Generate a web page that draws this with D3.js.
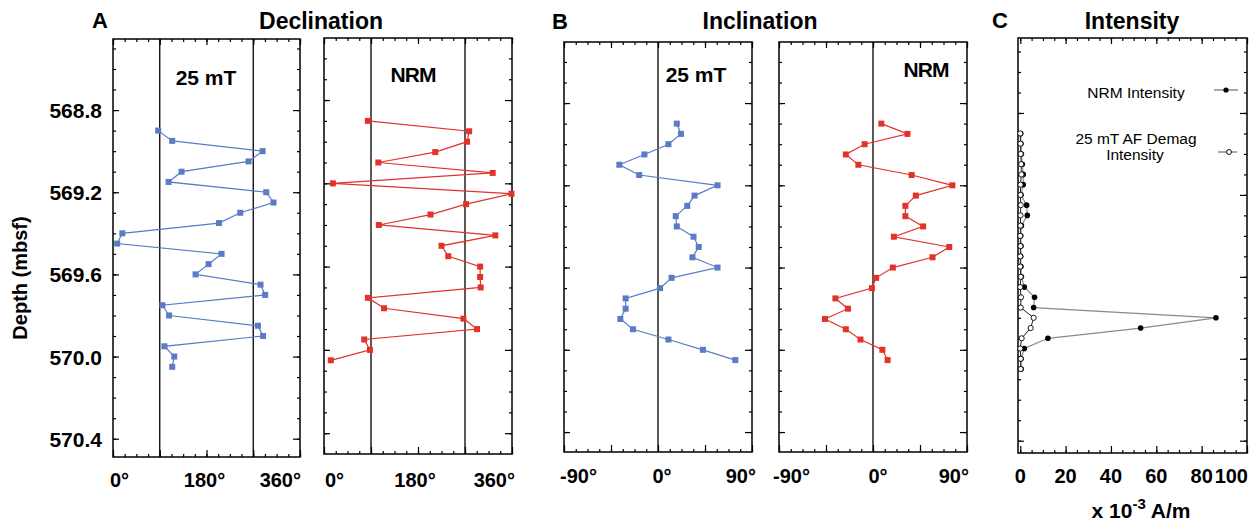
<!DOCTYPE html>
<html>
  <head>
    <style>
      body { margin: 0; background: white; }
      svg { font-family: "Liberation Sans", Arial, sans-serif; }
      .frame { fill: none; stroke: #000; stroke-width: 1.5px; }
      .tick line { stroke: #000; stroke-width: 1.2px; }
    </style>
  </head>
  <body>
    <script src="https://d3js.org/d3.v7.min.js"></script>
    <script>
    // sample depths (mbsf), shared by every panel
    var depth = [568.90, 568.95, 569.00, 569.05, 569.10, 569.15, 569.20, 569.25,
                 569.30, 569.35, 569.40, 569.45, 569.50, 569.55, 569.60, 569.65,
                 569.70, 569.75, 569.80, 569.85, 569.90, 569.95, 570.00, 570.05];

    // declination (deg)
    var dec25 = [87, 114, 288, 261, 132, 107, 295, 309, 245, 204, 18, 8,
                 209, 184, 159, 284, 293, 95, 108, 279, 289, 99, 118, 114];
    var decNrm = [84, 278, 274, 213, 104, 323, 17, 359, 272, 204, 105, 328,
                  225, 238, 299, 299, 300, 84, 115, 267, 293, 77, 88, 13];

    // inclination (deg)
    var inc25 = [18, 22, 10, -13, -37, -18, 57, 35, 28, 17, 18, 34,
                 39, 33, 57, 13, 2, -31, -31, -36, -24, 10, 43, 74];
    var incNrm = [8, 33, -8, -26, -14, 37, 76, 41, 31, 31, 48, 20,
                  73, 57, 19, 3, -1, -36, -24, -46, -26, -12, 9, 14];

    // intensity (x 10^-3 A/m)
    var intNrm = [0.2, 0.3, 0.5, 0.9, 1.3, 1.3, 0.3, 2.8, 3.1, 0.5, 0.2, 0.3,
                  0.2, 0.3, 0.5, 1.8, 6.3, 5.9, 86.3, 53.1, 12.2, 1.8, 0.3, 0.4];
    var int25 = [0, 0.1, 0.2, 0.4, 0.5, 0.1, 0.1, 0.2, 0.1, 0.1, 0, 0.1,
                 0, 0, 0.2, 0, 0.3, 0.2, 5.9, 4.6, 0.6, 0, 0.2, 0.2];

    var depthMajor = [568.8, 569.2, 569.6, 570.0, 570.4];
    var depthLabels = ["568.8", "569.2", "569.6", "570.0", "570.4"];
    var decLabels = ["0°", "180°", "360°"];
    var incLabels = ["-90°", "0°", "90°"];
    var intTicks = [0, 20, 40, 60, 80, 100];

    var blue = "#5b7bc5", red = "#e2332b";

    var svg = d3.select("body").append("svg")
        .attr("width", 1260)
        .attr("height", 525);

    function panel(p) {
      var x = d3.scaleLinear().domain(p.xd).range([p.x0, p.x1]);
      var y = d3.scaleLinear().domain(p.yd).range([p.y0, p.y1]);
      var g = svg.append("g");

      var dMinor = d3.range(5684, 5706).map(function(v){ return v / 10; })
          .filter(function(v){ return v > p.yd[0] && v < p.yd[1]; });
      var xMinor = d3.range(p.xFrom, p.xd[1] + 0.001, p.xMinor);
      var xMajor = d3.range(p.xFrom, p.xd[1] + 0.001, p.xMajor);

      function ax(axis, tv, size, tr) {
        g.append("g")
          .attr("transform", tr)
          .call(axis.tickValues(tv).tickSize(-size).tickSizeOuter(0).tickFormat(""))
          .call(function(s){ s.select(".domain").remove(); });
      }
      ax(d3.axisLeft(y), dMinor, 3, "translate(" + p.x0 + ",0)");
      ax(d3.axisLeft(y), depthMajor, 6, "translate(" + p.x0 + ",0)");
      ax(d3.axisRight(y), dMinor, 3, "translate(" + p.x1 + ",0)");
      ax(d3.axisRight(y), depthMajor, 7, "translate(" + p.x1 + ",0)");
      ax(d3.axisTop(x), xMinor, 3, "translate(0," + p.y0 + ")");
      ax(d3.axisTop(x), xMajor, 6, "translate(0," + p.y0 + ")");
      ax(d3.axisBottom(x), xMinor, 3, "translate(0," + p.y1 + ")");
      ax(d3.axisBottom(x), xMajor, 7, "translate(0," + p.y1 + ")");

      g.append("rect").attr("class", "frame")
        .attr("x", p.x0).attr("y", p.y0)
        .attr("width", p.x1 - p.x0).attr("height", p.y1 - p.y0);

      (p.refs || []).forEach(function(v){
        g.append("line")
          .attr("x1", x(v)).attr("x2", x(v))
          .attr("y1", p.y0).attr("y2", p.y1)
          .attr("stroke", "#000").attr("stroke-width", 1.3);
      });
      return { g: g, x: x, y: y };
    }

    function squares(pn, vals, color) {
      var pts = vals.map(function(v, i){ return [pn.x(v), pn.y(depth[i])]; });
      pn.g.append("path")
        .attr("d", d3.line()(pts))
        .attr("fill", "none")
        .attr("stroke", color)
        .attr("stroke-width", 1.2);
      pn.g.selectAll("rect.pt").data(pts).enter().append("rect")
        .attr("class", "pt")
        .attr("x", function(d){ return d[0] - 3; })
        .attr("y", function(d){ return d[1] - 3; })
        .attr("width", 6).attr("height", 6)
        .attr("fill", color);
    }

    function label(txt, x, y, size, anchor, weight, extra) {
      var t = svg.append("text")
        .attr("x", x).attr("y", y)
        .attr("font-size", size)
        .attr("font-weight", weight || "bold")
        .attr("text-anchor", anchor || "middle")
        .text(txt);
      if (extra) extra(t);
      return t;
    }

    function xLabels(pn, vals, texts, y, offs) {
      var anchors = ["start", "middle", "end"];
      vals.forEach(function(v, i){
        label(texts[i], pn.x(v) + offs[i], y, 20, anchors[i]);
      });
    }

    // ---- A: declination
    var pA1 = panel({ x0: 113, x1: 300, y0: 39, y1: 457, xd: [0, 360], xFrom: 0, yd: [568.454, 570.489],
                      xMinor: 22.5, xMajor: 90, refs: [90, 270] });
    var pA2 = panel({ x0: 324, x1: 512, y0: 38, y1: 454, xd: [0, 360], xFrom: 0, yd: [568.502, 570.5],
                      xMinor: 22.5, xMajor: 90, refs: [90, 270] });
    squares(pA1, dec25, blue);
    squares(pA2, decNrm, red);
    xLabels(pA1, [0, 180, 360], decLabels, 487, [-3, -2, 1]);
    xLabels(pA2, [0, 180, 360], decLabels, 487, [1, -3, 3]);

    depthMajor.forEach(function(d, i){
      label(depthLabels[i], 102, pA1.y(d) + 8, 21, "end");
    });
    label("Depth (mbsf)", 0, 0, 20, "middle", "bold", function(t){
      t.attr("transform", "translate(27,278) rotate(-90)");
    });

    // ---- B: inclination
    var pB1 = panel({ x0: 564, x1: 752, y0: 42, y1: 452, xd: [-90, 90], xFrom: -90, yd: [568.503, 570.497],
                      xMinor: 11.25, xMajor: 45, refs: [0] });
    var pB2 = panel({ x0: 779, x1: 967, y0: 42, y1: 452, xd: [-90, 90], xFrom: -90, yd: [568.503, 570.497],
                      xMinor: 11.25, xMajor: 45, refs: [0] });
    squares(pB1, inc25, blue);
    squares(pB2, incNrm, red);
    xLabels(pB1, [-90, 0, 90], incLabels, 483, [-4, 4, 4]);
    xLabels(pB2, [-90, 0, 90], incLabels, 483, [-6, 5, 2]);

    // ---- C: intensity
    var pC = panel({ x0: 1018, x1: 1247, y0: 38, y1: 453, xd: [-1, 100], xFrom: 0, yd: [568.434, 570.46],
                     xMinor: 5, xMajor: 20 });

    var ptsN = intNrm.map(function(v, i){ return [pC.x(v), pC.y(depth[i])]; });
    var pts25 = int25.map(function(v, i){ return [pC.x(v), pC.y(depth[i])]; });
    pC.g.append("path").attr("d", d3.line()(ptsN))
      .attr("fill", "none").attr("stroke", "#8a8a8a").attr("stroke-width", 1.2);
    pC.g.append("path").attr("d", d3.line()(pts25))
      .attr("fill", "none").attr("stroke", "#222").attr("stroke-width", 1);
    pC.g.selectAll("circle.n").data(ptsN).enter().append("circle")
      .attr("cx", function(d){ return d[0]; }).attr("cy", function(d){ return d[1]; })
      .attr("r", 2.8).attr("fill", "#000");
    pC.g.selectAll("circle.m").data(pts25).enter().append("circle")
      .attr("cx", function(d){ return d[0]; }).attr("cy", function(d){ return d[1]; })
      .attr("r", 2.6).attr("fill", "#fff").attr("stroke", "#000").attr("stroke-width", 0.9);

    intTicks.forEach(function(v, i){
      var last = i === intTicks.length - 1;
      label(String(v), pC.x(v) + (last ? 1 : 0), 483, 20, last ? "end" : "middle");
    });
    label("", 1141, 518, 21, "middle", "bold", function(t){
      t.append("tspan").text("x 10");
      t.append("tspan").attr("dy", -9).attr("font-size", 15).text("-3");
      t.append("tspan").attr("dy", 9).text(" A/m");
    });

    // legend
    label("NRM Intensity", 1136, 98, 15.5, "middle", "normal");
    svg.append("line").attr("x1", 1214).attr("x2", 1238).attr("y1", 90).attr("y2", 90)
      .attr("stroke", "#555").attr("stroke-width", 1);
    svg.append("circle").attr("cx", 1226).attr("cy", 90).attr("r", 2.6).attr("fill", "#000");
    label("25 mT AF Demag", 1136, 144, 15.5, "middle", "normal");
    label("Intensity", 1135, 160, 15.5, "middle", "normal");
    svg.append("line").attr("x1", 1218).attr("x2", 1237).attr("y1", 152).attr("y2", 152)
      .attr("stroke", "#555").attr("stroke-width", 1);
    svg.append("circle").attr("cx", 1229).attr("cy", 152).attr("r", 2.5)
      .attr("fill", "#fff").attr("stroke", "#000").attr("stroke-width", 0.9);

    // in-panel titles
    label("25 mT", 206, 85, 21, "middle");
    label("NRM", 413, 82, 21, "middle", "bold", function(t){ t.attr("letter-spacing", -1); });
    label("25 mT", 696, 82, 21, "middle");
    label("NRM", 926, 77, 21, "middle", "bold", function(t){ t.attr("letter-spacing", -1); });

    // headers
    label("A", 100, 28, 22, "middle");
    label("Declination", 321, 29, 23, "middle");
    label("B", 560, 29, 22, "middle");
    label("Inclination", 760, 29, 23, "middle");
    label("C", 1000, 28, 22, "middle");
    label("Intensity", 1132, 29, 23, "middle");
    </script>
  </body>
</html>
